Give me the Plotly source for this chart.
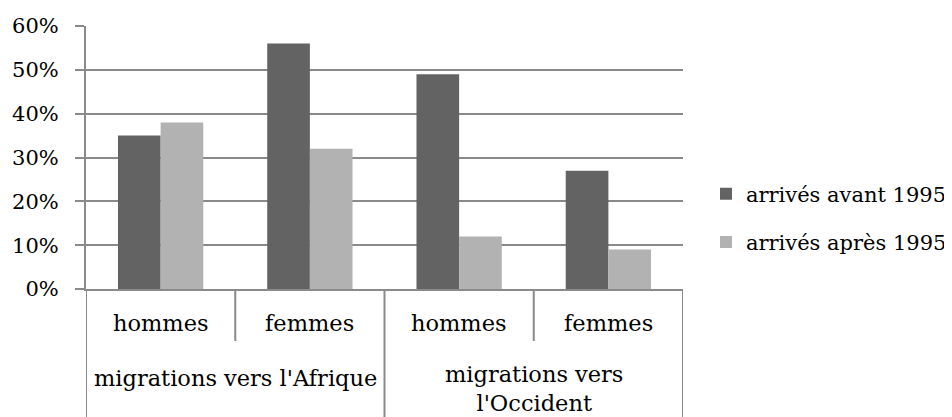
import plotly.graph_objects as go

# données
groupes = ["migrations vers l'Afrique", "migrations vers<br>l'Occident"]
sexes = ["hommes", "femmes", "hommes", "femmes"]
avant_1995 = [0.35, 0.56, 0.49, 0.27]
apres_1995 = [0.38, 0.32, 0.12, 0.09]
noms_series = ["arrivés avant 1995", "arrivés après 1995"]
couleurs = ["#636363", "#b2b2b2"]
y_ticks = [0, 0.1, 0.2, 0.3, 0.4, 0.5, 0.6]

FONT = "DejaVu Serif"
GRIS = "#8a8a8a"
x_pos = list(range(len(sexes)))

fig = go.Figure()
for nom, vals, c in zip(noms_series, [avant_1995, apres_1995], couleurs):
    fig.add_trace(go.Bar(x=x_pos, y=vals, name=nom, marker=dict(color=c, line=dict(width=0)),
                         legendgroup=nom))

# hauteur de la zone de tracé en px, pour convertir en coordonnées paper
H_PLOT = 263
def py(px_below):
    return -px_below / H_PLOT

shapes = []
# séparateurs des catégories : courts entre sexes, longs entre groupes
for i in range(len(sexes) + 1):
    xb = i - 0.5
    long = (i % 2 == 0)
    shapes.append(dict(type="line", xref="x", yref="paper", x0=xb, x1=xb,
                       y0=0, y1=py(130) if long else py(52),
                       line=dict(color=GRIS, width=2)))

annotations = []
for i, s in enumerate(sexes):
    annotations.append(dict(x=i, y=py(34), xref="x", yref="paper", text=s, showarrow=False,
                            font=dict(family=FONT, size=22.5, color="black"), yanchor="middle"))
for j, g in enumerate(groupes):
    annotations.append(dict(x=2 * j + 0.5, y=py(89) if j == 0 else py(99), xref="x", yref="paper",
                            text=g, showarrow=False, font=dict(family=FONT, size=22.5, color="black"),
                            yanchor="middle"))

# la page ajoute une marge de 8 px : figure 944x409 pour tenir dans 952x417
fig.update_layout(
    width=944, height=409,
    margin=dict(l=78, r=269, t=18, b=128),
    paper_bgcolor="white", plot_bgcolor="white",
    barmode="group", bargap=1.5 / 3.5, bargroupgap=0,
    font=dict(family=FONT, size=20, color="black"),
    xaxis=dict(range=[-0.5, 3.5], showticklabels=False, showgrid=False, zeroline=False,
               showline=True, linecolor=GRIS, linewidth=2, ticks="", automargin=False),
    yaxis=dict(range=[0, 0.6], tickvals=y_ticks, tickformat=".0%", showgrid=True,
               gridcolor=GRIS, gridwidth=2, zeroline=False, showline=True, linecolor=GRIS,
               linewidth=2, ticks="outside", ticklen=9, tickwidth=2, tickcolor=GRIS,
               ticklabelstandoff=12, tickfont=dict(family=FONT, size=21), automargin=False),
    legend=dict(xref="container", yref="container", x=0.7394, y=0.4866, xanchor="left",
                yanchor="middle", traceorder="grouped", tracegroupgap=18,
                font=dict(family=FONT, size=21), itemwidth=30),
    shapes=shapes,
    annotations=annotations,
)

fig.write_html("out.html")
